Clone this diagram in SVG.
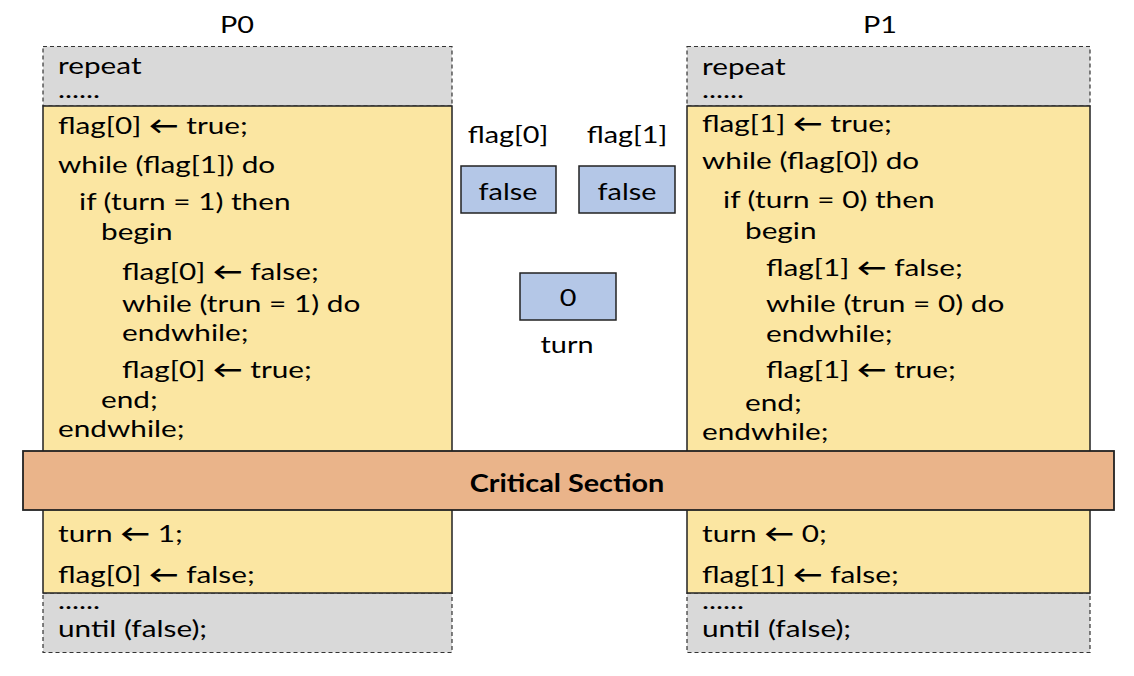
<svg xmlns="http://www.w3.org/2000/svg" width="1134" height="676" viewBox="0 0 1134 676">
<style>
  text { font-family: Lato, "Open Sans", "Liberation Sans", sans-serif; font-size: 24px; fill: #000; }
  .mid { text-anchor: middle; }
  .arr { font-weight: bold; }
  .gray { fill: #D9D9D9; stroke: #333; stroke-width: 1.2; stroke-dasharray: 4 3; }
  .yel { fill: #FBE6A2; stroke: #222; stroke-width: 1.5; }
  .var { fill: #B4C7E7; stroke: #222; stroke-width: 1.5; }
  .cs { fill: #EAB48A; stroke: #222; stroke-width: 1.8; }
  .bold { font-weight: bold; }
</style>
<rect width="1134" height="676" fill="#fff"/>

<g id="p0">
  <rect class="gray" x="43" y="46.5" width="409" height="59.5"/>
  <rect class="gray" x="43" y="593" width="409" height="59.5"/>
  <rect class="yel" x="43" y="106" width="409" height="487"/>
  <text class="mid" transform="matrix(1.2 0 0 1 237 0)" y="33">P0</text>
  <text transform="matrix(1.24 0 0 1 58 0)" y="74">repeat</text>
  <text transform="matrix(1.24 0 0 1 58 0)" y="98">......</text>
  <text transform="matrix(1.24 0 0 1 58 0)" y="134">flag[0] <tspan class="arr">←</tspan> true;</text>
  <text transform="matrix(1.24 0 0 1 58 0)" y="173">while (flag[1]) do</text>
  <text transform="matrix(1.24 0 0 1 79 0)" y="210">if (turn = 1) then</text>
  <text transform="matrix(1.24 0 0 1 101 0)" y="240">begin</text>
  <text transform="matrix(1.24 0 0 1 122 0)" y="280">flag[0] <tspan class="arr">←</tspan> false;</text>
  <text transform="matrix(1.24 0 0 1 122 0)" y="312">while (trun = 1) do</text>
  <text transform="matrix(1.24 0 0 1 122 0)" y="341">endwhile;</text>
  <text transform="matrix(1.24 0 0 1 122 0)" y="378">flag[0] <tspan class="arr">←</tspan> true;</text>
  <text transform="matrix(1.24 0 0 1 101 0)" y="408">end;</text>
  <text transform="matrix(1.24 0 0 1 58 0)" y="437">endwhile;</text>
  <text transform="matrix(1.24 0 0 1 58 0)" y="542">turn <tspan class="arr">←</tspan> 1;</text>
  <text transform="matrix(1.24 0 0 1 58 0)" y="583">flag[0] <tspan class="arr">←</tspan> false;</text>
  <text transform="matrix(1.24 0 0 1 58 0)" y="609">......</text>
  <text transform="matrix(1.24 0 0 1 58 0)" y="637">until (false);</text>
</g>

<g id="p1">
  <rect class="gray" x="687" y="46.5" width="403" height="59.5"/>
  <rect class="gray" x="687" y="593" width="403" height="59.5"/>
  <rect class="yel" x="687" y="106" width="403" height="487"/>
  <text class="mid" transform="matrix(1.2 0 0 1 880 0)" y="33">P1</text>
  <text transform="matrix(1.24 0 0 1 702 0)" y="75">repeat</text>
  <text transform="matrix(1.24 0 0 1 702 0)" y="98">......</text>
  <text transform="matrix(1.24 0 0 1 702 0)" y="132">flag[1] <tspan class="arr">←</tspan> true;</text>
  <text transform="matrix(1.24 0 0 1 702 0)" y="169">while (flag[0]) do</text>
  <text transform="matrix(1.24 0 0 1 723 0)" y="208">if (turn = 0) then</text>
  <text transform="matrix(1.24 0 0 1 745 0)" y="239">begin</text>
  <text transform="matrix(1.24 0 0 1 766 0)" y="276">flag[1] <tspan class="arr">←</tspan> false;</text>
  <text transform="matrix(1.24 0 0 1 766 0)" y="312">while (trun = 0) do</text>
  <text transform="matrix(1.24 0 0 1 766 0)" y="342">endwhile;</text>
  <text transform="matrix(1.24 0 0 1 766 0)" y="378">flag[1] <tspan class="arr">←</tspan> true;</text>
  <text transform="matrix(1.24 0 0 1 745 0)" y="411">end;</text>
  <text transform="matrix(1.24 0 0 1 702 0)" y="440">endwhile;</text>
  <text transform="matrix(1.24 0 0 1 702 0)" y="542">turn <tspan class="arr">←</tspan> 0;</text>
  <text transform="matrix(1.24 0 0 1 702 0)" y="583">flag[1] <tspan class="arr">←</tspan> false;</text>
  <text transform="matrix(1.24 0 0 1 702 0)" y="609">......</text>
  <text transform="matrix(1.24 0 0 1 702 0)" y="637">until (false);</text>
</g>

<g id="critical-section">
  <rect class="cs" x="23" y="451" width="1091" height="59"/>
  <text class="mid bold" transform="matrix(1.2 0 0 1 567 0)" y="492">Critical Section</text>
</g>

<g id="flag0">
  <text class="mid" transform="matrix(1.2 0 0 1 508 0)" y="143">flag[0]</text>
  <rect class="var" x="461" y="166" width="95" height="47"/>
  <text class="mid" transform="matrix(1.2 0 0 1 508 0)" y="200">false</text>
</g>

<g id="flag1">
  <text class="mid" transform="matrix(1.2 0 0 1 627 0)" y="143">flag[1]</text>
  <rect class="var" x="579" y="166" width="96" height="47"/>
  <text class="mid" transform="matrix(1.2 0 0 1 627 0)" y="200">false</text>
</g>

<g id="turn">
  <rect class="var" x="520" y="273" width="96" height="47"/>
  <text class="mid" transform="matrix(1.2 0 0 1 568 0)" y="306">0</text>
  <text class="mid" transform="matrix(1.2 0 0 1 567 0)" y="353">turn</text>
</g>

<g id="connectors"></g>
</svg>
